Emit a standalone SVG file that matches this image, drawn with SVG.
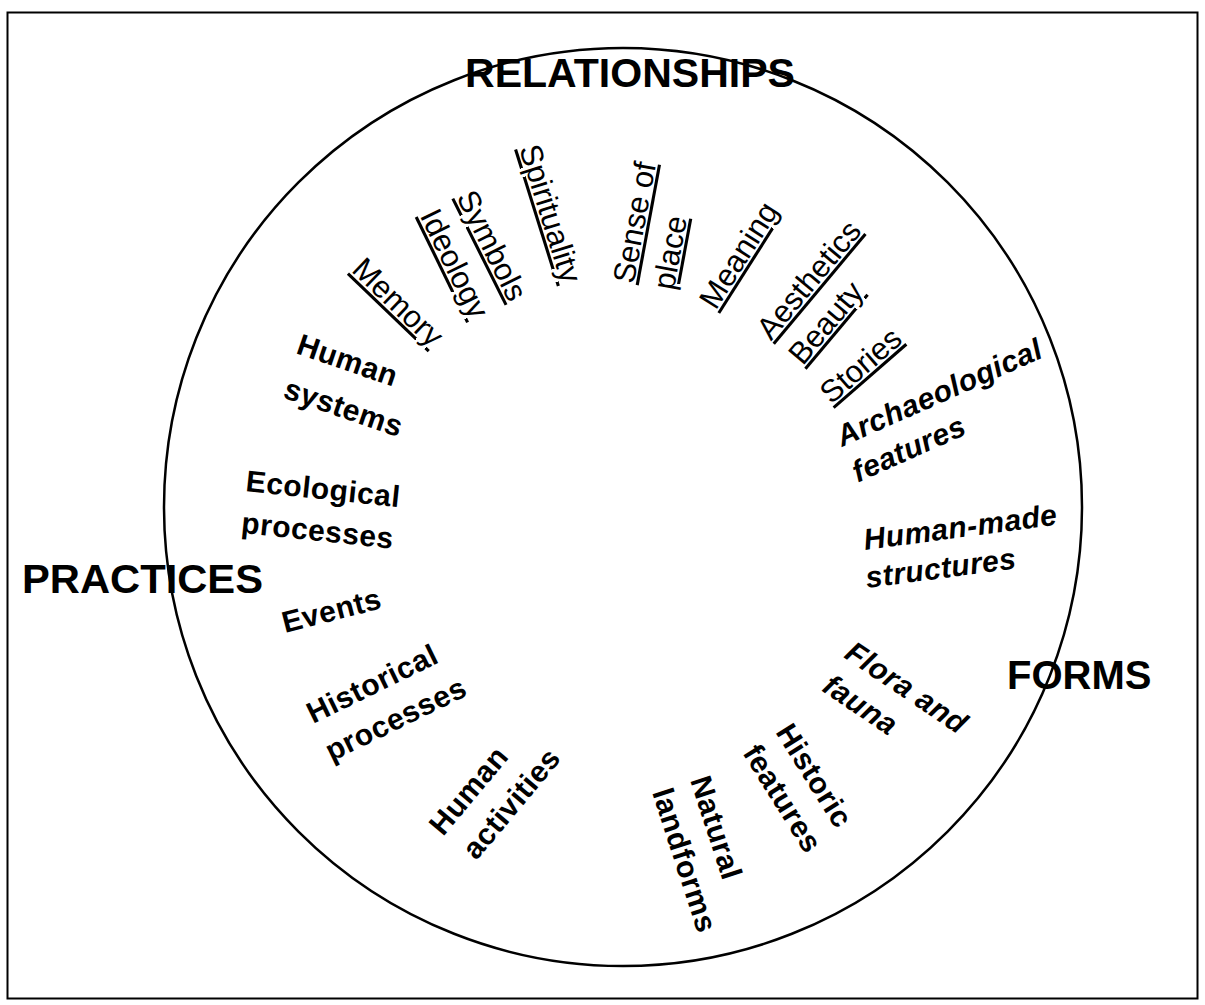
<svg xmlns="http://www.w3.org/2000/svg" width="1205" height="1005" viewBox="0 0 1205 1005">
  <style>
    text { font-family: "Liberation Sans", Arial, sans-serif; fill: #000; }
    .title { font-size: 40px; font-weight: bold; }
    .rel { font-size: 31px; text-decoration: underline; text-decoration-thickness: 1.5px; text-decoration-skip-ink: none; }
    .lbl { font-size: 30px; font-weight: bold; letter-spacing: 0.5px; }
    .it { font-style: italic; }
  </style>
  <rect x="0" y="0" width="1205" height="1005" fill="#fff"/>
  <rect x="7.5" y="12.5" width="1190" height="986" fill="none" stroke="#000" stroke-width="2"/>

  <g id="connectors">
    <circle cx="623" cy="507" r="459" fill="none" stroke="#000" stroke-width="2.5"/>
  </g>

  <!-- category headings -->
  <g id="relationships"><text class="title" x="465" y="87" textLength="330" lengthAdjust="spacingAndGlyphs">RELATIONSHIPS</text></g>
  <g id="practices"><text class="title" x="22" y="593" textLength="241" lengthAdjust="spacingAndGlyphs">PRACTICES</text></g>
  <g id="forms"><text class="title" x="1007" y="689">FORMS</text></g>

  <!-- relationship terms -->
  <g id="memory" transform="translate(350.4,271.1) rotate(43.8)"><text class="rel">Memory</text></g>
  <g id="ideology" transform="translate(419.4,215.4) rotate(64)"><text class="rel">Ideology</text></g>
  <g id="symbols" transform="translate(456,197) rotate(63.4)"><text class="rel">Symbols</text></g>
  <g id="spirituality" transform="translate(519,148.4) rotate(72.6)"><text class="rel">Spirituality</text></g>
  <g id="sense-of-place" transform="translate(633.7,284.5) rotate(-79.5)">
    <text class="rel">Sense of</text>
    <text class="rel" x="1" y="40.5">place</text>
  </g>
  <g id="meaning" transform="translate(715.8,311.1) rotate(-57.6)"><text class="rel">Meaning</text></g>
  <g id="aesthetics" transform="translate(771,341.4) rotate(-50.1)"><text class="rel">Aesthetics</text></g>
  <g id="beauty" transform="translate(802.7,366.4) rotate(-49.9)"><text class="rel">Beauty</text></g>
  <g id="stories" transform="translate(831.3,405) rotate(-41.1)"><text class="rel">Stories</text></g>

  <!-- form terms -->
  <g id="archaeological-features" transform="translate(842,447) rotate(-24)">
    <text class="lbl it">Archaeological</text>
    <text class="lbl it" x="0" y="39">features</text>
  </g>
  <g id="human-made-structures" transform="translate(865,550) rotate(-7.5)">
    <text class="lbl it">Human-made</text>
    <text class="lbl it" x="-3" y="38">structures</text>
  </g>
  <g id="flora-and-fauna" transform="translate(843,657) rotate(34)">
    <text class="lbl it">Flora and</text>
    <text class="lbl it" x="0" y="40">fauna</text>
  </g>
  <g id="historic-features" transform="translate(775,732) rotate(58)">
    <text class="lbl">Historic</text>
    <text class="lbl" x="0" y="39">features</text>
  </g>
  <g id="natural-landforms" transform="translate(690,780) rotate(72)">
    <text class="lbl">Natural</text>
    <text class="lbl" x="0" y="40">landforms</text>
  </g>

  <!-- practice terms -->
  <g id="human-activities" transform="translate(443,837) rotate(-50)">
    <text class="lbl">Human</text>
    <text class="lbl" x="3" y="41">activities</text>
  </g>
  <g id="historical-processes" transform="translate(313,724) rotate(-26)">
    <text class="lbl">Historical</text>
    <text class="lbl" x="0" y="42">processes</text>
  </g>
  <g id="events" transform="translate(285,633) rotate(-14.4)"><text class="lbl">Events</text></g>
  <g id="ecological-processes" transform="translate(245,491) rotate(6)">
    <text class="lbl">Ecological</text>
    <text class="lbl" x="0" y="42">processes</text>
  </g>
  <g id="human-systems" transform="translate(295,353) rotate(19)">
    <text class="lbl">Human</text>
    <text class="lbl" x="2" y="46">systems</text>
  </g>
</svg>
